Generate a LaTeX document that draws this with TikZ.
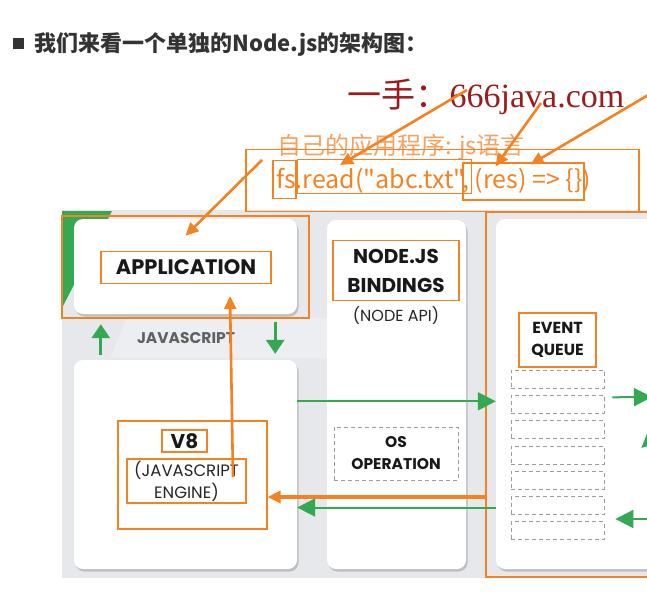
\documentclass[tikz,border=0pt]{standalone}
\usepackage{fontspec}
\setmainfont{Liberation Serif}
\setsansfont{Poppins}
\newfontfamily\cjk{Noto Sans CJK SC}
\usepackage{xcolor}
\usetikzlibrary{arrows.meta, positioning, shadows}

\definecolor{hlorange}{HTML}{F58220}
\definecolor{softorange}{HTML}{F6A263}
\definecolor{nodegreen}{HTML}{34A853}
\definecolor{panelgray}{HTML}{E6E8EB}
\definecolor{slotgray}{HTML}{9C9C9C}
\definecolor{markred}{HTML}{9A1C1C}
\definecolor{headgray}{HTML}{333333}

\begin{document}
\begin{tikzpicture}[
  x=1pt, y=-1pt,
  panel/.style={rectangle, fill=white, rounded corners=9pt, inner sep=0pt, drop shadow={shadow xshift=1.5pt, shadow yshift=-2.5pt, opacity=0.35, fill=black!55}},
  hl/.style={rectangle, draw=hlorange, line width=1.1pt, inner sep=0pt},
  boxtext/.style={font=\sffamily\bfseries, text=black!90, align=center},
  subtext/.style={text=black!85, align=center},
  slot/.style={rectangle, draw=slotgray, line width=0.8pt, dash pattern=on 4pt off 3pt, minimum width=93pt, minimum height=18pt},
  garrow/.style={-{Triangle[length=18pt,width=18pt]}, draw=nodegreen, fill=nodegreen, line width=2pt},
  gvarrow/.style={-{Triangle[length=14pt,width=18pt]}, draw=nodegreen, fill=nodegreen, line width=3pt},
  hlarrow/.style={-{Triangle[length=13pt,width=12pt]}, draw=hlorange, fill=hlorange, line width=2.6pt}
]
\useasboundingbox (0,0) rectangle (647,604);
\clip (0,0) rectangle (647,604);

% Heading
\node[fill=headgray, minimum size=11pt, inner sep=0pt] (bullet) at (18.5,44) {};
\node[anchor=west, inner sep=0pt, text=headgray, font=\cjk\bfseries\fontsize{22}{24}\selectfont] (title) at (34,45) {我们来看一个单独的Node.js的架构图：};
\node[text=markred, font=\fontsize{34}{36}\selectfont] (mark) at (486,97) {{\cjk 一手：}666java.com};

% Background
\fill[panelgray] (62,210) rectangle (647,578);
\fill[nodegreen] (62,211) -- (112,211) -- (62,308) -- cycle;
\fill[white, opacity=0.3] (110,358) -- (127,318) -- (327,318) -- (327,358) -- cycle;

% Nodes
\node[panel, minimum width=223pt, minimum height=95pt] (appbox) at (185.5,266.5) {};
\node[panel, minimum width=223pt, minimum height=209pt] (v8box) at (185.5,464.5) {};
\node[panel, minimum width=139pt, minimum height=349pt] (bindbox) at (396.5,394.5) {};
\node[panel, minimum width=204pt, minimum height=350pt] (evbox) at (598,394) {};

\node[hl, boxtext, minimum width=170pt, minimum height=32pt, font=\sffamily\bfseries\fontsize{21}{24}\selectfont] (appname) at (186,267.5) {APPLICATION};
\node[text=black!62, font=\sffamily\bfseries\fontsize{15.5}{18}\selectfont] (jslabel) at (186,338) {JAVASCRIPT};

\node[hl, boxtext, minimum width=45pt, minimum height=22pt, font=\sffamily\bfseries\fontsize{20}{22}\selectfont] (v8name) at (184.5,441) {V8};
\node[hl, subtext, minimum width=119pt, minimum height=44pt, font=\sffamily\fontsize{16.5}{22}\selectfont] (v8sub) at (186.5,481) {(JAVASCRIPT\\ENGINE)};
\node[hl, minimum width=149pt, minimum height=108pt] (v8hl) at (192.5,475) {};

\node[hl, boxtext, minimum width=126pt, minimum height=60pt, font=\sffamily\bfseries\fontsize{20}{29}\selectfont] (bindname) at (396,270.5) {NODE.JS\\BINDINGS};
\node[subtext, below=5pt of bindname, inner sep=0pt, font=\sffamily\fontsize{16}{18}\selectfont] (nodeapi) {(NODE API)};
\node[slot, boxtext, minimum width=124pt, minimum height=53pt, font=\sffamily\bfseries\fontsize{15.5}{22}\selectfont] (osop) at (396,453.5) {OS\\OPERATION};

\node[hl, boxtext, minimum width=77pt, minimum height=54pt, font=\sffamily\bfseries\fontsize{16}{22}\selectfont] (queuename) at (557.5,340) {EVENT\\QUEUE};
\foreach \i in {1,...,7}
  \node[slot] (q\i) at (557.5,{379+(\i-1)*25.3}) {};
\node[hl, minimum width=174pt, minimum height=365pt] (evhl) at (573,394.5) {};
\node[hl, minimum width=247pt, minimum height=102pt] (apphl) at (185.5,267) {};

% Code annotation
\node[anchor=west, inner sep=0pt, text=softorange, font=\cjk\fontsize{24}{26}\selectfont] (apptag) at (277,147) {自己的应用程序: js语言};
\node[hl, minimum width=393pt, minimum height=62pt] (codehl) at (442.5,180.5) {};
\node[anchor=west, inner sep=0pt, text=hlorange, font=\cjk\fontsize{25}{27}\selectfont] (code) at (276,181) {fs.read("abc.txt", (res) => \{\})};
\node[hl, minimum width=23pt, minimum height=38pt] (fsbox) at (284.5,179.5) {};
\node[hl, minimum width=174pt, minimum height=34pt] (readbox) at (384.5,176.5) {};
\node[hl, minimum width=121pt, minimum height=37pt] (resbox) at (523.5,181.5) {};

% Arrows
\coordinate (tag1) at (467,90);
\coordinate (tag2) at (541,103);
\coordinate (tag3) at (650,94);
\coordinate (tag4) at (262,160);
\coordinate (v8tip) at ([yshift=-22pt]v8hl.east);
\draw[hlarrow] (tag1) -- ([xshift=43pt,yshift=-6pt]readbox.north west);
\draw[hlarrow] (tag2) -- ([xshift=33pt,yshift=-4pt]resbox.north west);
\draw[hlarrow] (tag3) -- ([xshift=7pt,yshift=-2pt]resbox.north);
\draw[hlarrow] (tag4) -- ([yshift=-17pt]appbox.north);
\draw[hlarrow] ([xshift=46.5pt,yshift=4pt]v8sub.center) -- ([xshift=44pt,yshift=-12pt]appname.south);
\draw[hlarrow, line width=3.4pt] (evhl.west |- v8tip) -- (v8tip);

\draw[gvarrow] ([xshift=27pt,yshift=5pt]v8box.north west) -- ([xshift=27pt,yshift=-10pt]appbox.south west);
\draw[gvarrow] ([xshift=-22pt,yshift=-8pt]appbox.south east) -- ([xshift=-22pt,yshift=6pt]v8box.north east);
\draw[garrow] ([yshift=3pt]v8box.east |- q2) -- ([yshift=3pt]evbox.west |- q2);
\draw[garrow] ([yshift=-2pt]evbox.west |- q6) -- ([yshift=-2pt]v8box.east |- q6);

\coordinate (rout) at (652,397);
\coordinate (rin) at (652,519);
\coordinate (rmid) at (675,418);
\draw[garrow] ([xshift=8pt,yshift=7pt]q2.east) -- (rout);
\draw[garrow] (rin) -- ([xshift=11pt,yshift=-13.5pt]q6.east);
\draw[garrow] (rmid) -- ([xshift=37pt,yshift=7pt]q4.east);

\end{tikzpicture}
\end{document}
